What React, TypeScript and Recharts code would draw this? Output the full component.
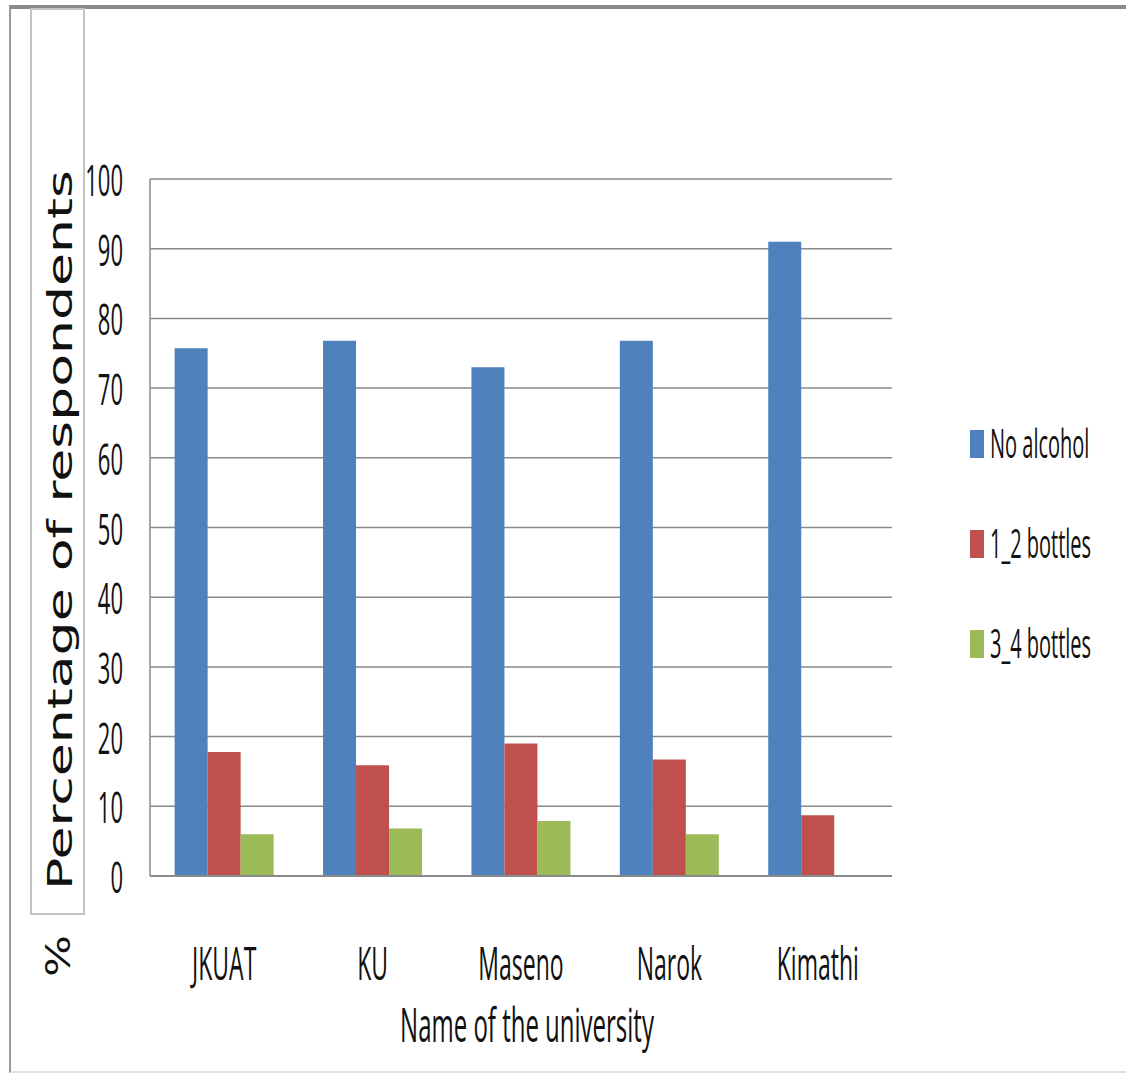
import React from 'react';
import { BarChart, Bar, XAxis, YAxis, CartesianGrid, Legend } from 'recharts';

const universities = ['JKUAT', 'KU', 'Maseno', 'Narok', 'Kimathi'];
const noAlcohol = [75.7, 76.8, 73.0, 76.8, 91.0];
const oneTwoBottles = [17.8, 15.9, 19.0, 16.7, 8.7];
const threeFourBottles = [6.0, 6.8, 7.9, 6.0, 0];
const yTicks = [0, 10, 20, 30, 40, 50, 60, 70, 80, 90, 100];

const seriesNames = ['No alcohol', '1_2 bottles', '3_4 bottles'];
const seriesColors = ['#4F81BD', '#C0504D', '#9BBB59'];

const data = universities.map((u, i) => ({
  name: u,
  a: noAlcohol[i],
  b: oneTwoBottles[i],
  c: threeFourBottles[i],
}));

const FONT = '"Open Sans", "Noto Sans", sans-serif';

const YTick = (props: any) => {
  const { y, payload } = props;
  return (
    <g transform={`translate(123,${y}) scale(1,2)`}>
      <text x={0} y={0} textAnchor="end" dominantBaseline="central" fontSize={22} fontFamily={FONT} fill="#111">
        {payload.value}
      </text>
    </g>
  );
};

const XTick = (props: any) => {
  const { x, payload } = props;
  return (
    <g transform={`translate(${x},980) scale(1,2)`}>
      <text x={0} y={0} textAnchor="middle" fontSize={23} fontFamily={FONT} fill="#111">
        {payload.value}
      </text>
    </g>
  );
};

const LegendContent = () => {
  return (
    <svg width={150} height={300} style={{ display: 'block', overflow: 'visible' }}>
      {seriesNames.map((name, i) => (
        <g key={name} transform={`translate(0,${i * 100})`}>
          <rect x={0} y={5} width={14} height={28} fill={seriesColors[i]} />
          <g transform="translate(20,33) scale(1,2)">
            <text x={0} y={0} fontSize={20} fontFamily={FONT} fill="#111">
              {name}
            </text>
          </g>
        </g>
      ))}
    </svg>
  );
};

const YLabel = () => (
  <g>
    <text
      x={72}
      y={530}
      transform="rotate(-90,72,530)"
      textAnchor="middle"
      fontSize={33}
      fontFamily='"DejaVu Sans", sans-serif'
      textLength={720}
      lengthAdjust="spacingAndGlyphs"
      fill="#111"
    >
      Percentage of respondents
    </text>
    <text
      x={70}
      y={956}
      transform="rotate(-90,70,956)"
      textAnchor="middle"
      fontSize={33}
      fontFamily='"DejaVu Sans", sans-serif'
      textLength={42}
      lengthAdjust="spacingAndGlyphs"
      fill="#111"
    >
      %
    </text>
  </g>
);

const XLabel = () => (
  <g transform="translate(527,1042) scale(1,2)">
    <text x={0} y={0} textAnchor="middle" fontSize={24} fontFamily={FONT} fill="#111">
      Name of the university
    </text>
  </g>
);

export default function App() {
  return (
    <div style={{ position: 'absolute', left: 0, top: 0, width: 1126, height: 1073, background: '#fff', overflow: 'hidden' }}>
      <div style={{ position: 'absolute', left: 9, top: 5, width: 1130, height: 1062, borderTop: '4px solid #8a8a8a', borderLeft: '2px solid #9a9a9a', borderBottom: '3px solid #e2e2e2' }} />
      <div style={{ position: 'absolute', left: 30, top: 8, width: 51, height: 903, border: '2px solid #c4c4c4' }} />
      <div style={{ position: 'absolute', left: 0, top: 0 }}>
        <BarChart
          width={1126}
          height={1073}
          data={data}
          margin={{ top: 179, right: 234, bottom: 157, left: 110 }}
          barCategoryGap="16.6%"
          barGap={0}
        >
          <CartesianGrid vertical={false} stroke="#8a8a8a" strokeWidth={1.5} />
          <XAxis
            dataKey="name"
            height={40}
            tickLine={false}
            axisLine={{ stroke: '#8a8a8a', strokeWidth: 2 }}
            tick={<XTick />}
            interval={0}
            label={{ content: () => <XLabel /> }}
          />
          <YAxis
            width={40}
            domain={[0, 100]}
            ticks={yTicks}
            tickLine={false}
            axisLine={{ stroke: '#8a8a8a', strokeWidth: 1.5 }}
            tick={<YTick />}
            label={{ content: () => <YLabel /> }}
          />
          <Legend
            layout="vertical"
            align="center"
            verticalAlign="middle"
            content={<LegendContent />}
            wrapperStyle={{ left: 970, top: 425, width: 150, height: 300 }}
          />
          <Bar dataKey="a" name={seriesNames[0]} fill={seriesColors[0]} isAnimationActive={false} />
          <Bar dataKey="b" name={seriesNames[1]} fill={seriesColors[1]} isAnimationActive={false} />
          <Bar dataKey="c" name={seriesNames[2]} fill={seriesColors[2]} isAnimationActive={false} />
        </BarChart>
      </div>
    </div>
  );
}
